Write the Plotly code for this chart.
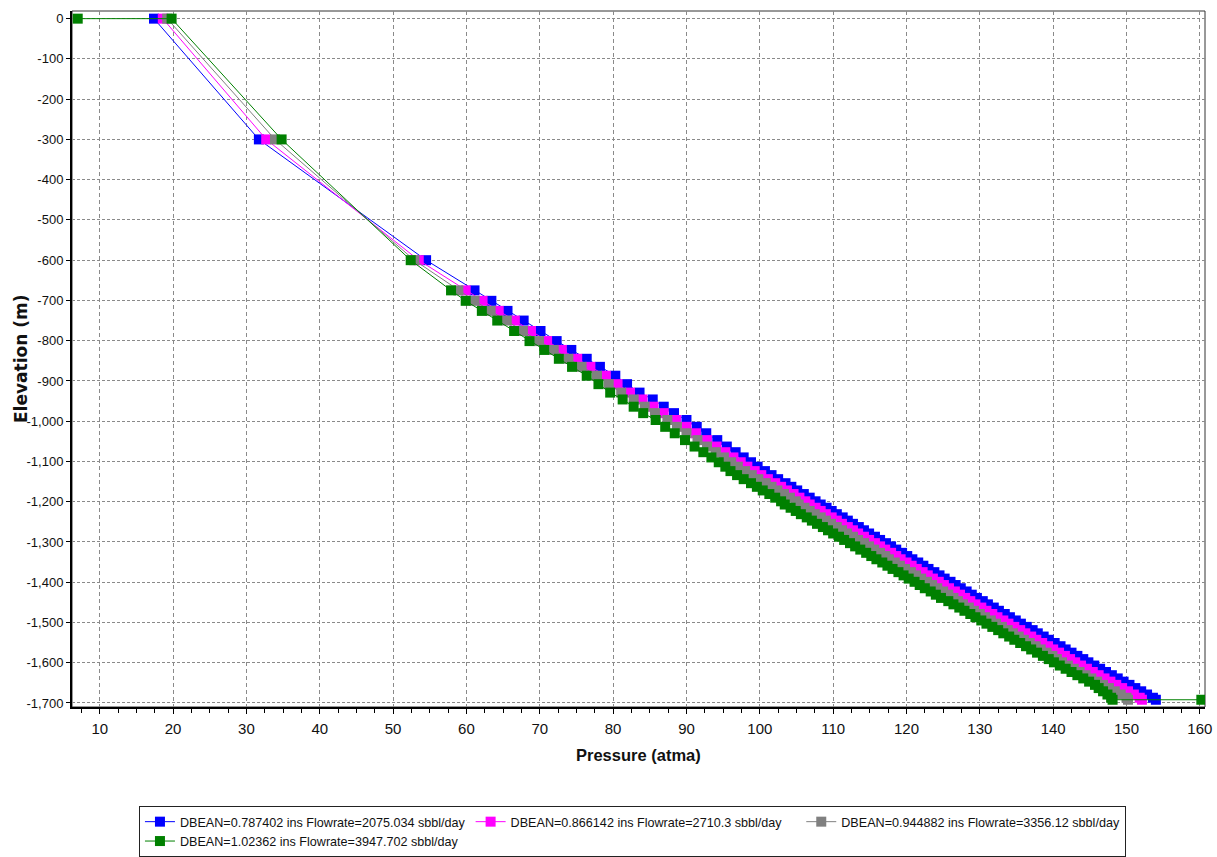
import plotly.graph_objects as go

# ---------------- data ----------------
elevation = [0, -300, -600, -675, -701, -726, -750, -776, -801, -823, -845, -865, -887, -908,
             -929, -946, -964, -980, -997, -1014, -1030, -1047,
             -1063, -1077, -1090, -1102, -1113, -1124, -1134, -1144, -1154, -1163, -1172,
             -1181, -1190, -1199,
             -1207, -1215, -1223, -1231, -1239, -1247, -1255, -1263, -1271, -1279,
             -1287, -1295, -1303, -1311, -1319, -1327, -1335, -1343, -1351, -1359,
             -1367, -1375, -1383, -1391, -1399, -1407, -1415, -1423, -1431, -1439,
             -1447, -1455, -1463, -1471, -1479, -1487, -1495, -1503, -1511, -1519,
             -1527, -1535, -1543, -1551, -1559, -1567, -1575, -1583, -1591, -1599,
             -1607, -1615, -1623, -1631, -1639, -1647, -1655, -1663, -1671, -1679,
             -1687, -1692]

p_blue = [17.4, 31.7, 54.5, 61.1, 63.4, 65.6, 67.8, 70.1, 72.3, 74.3, 76.4, 78.2, 80.3, 81.9,
          83.6, 85.4, 86.9, 88.3, 90.0, 91.4, 92.7, 94.2,
          95.5, 96.7, 97.8, 98.8, 99.7, 100.7, 101.6, 102.5, 103.5, 104.3, 105.1,
          106.0, 106.8, 107.6,
          108.3, 109.1, 109.8, 110.5, 111.3, 112.0, 112.7, 113.5, 114.2, 114.9,
          115.7, 116.4, 117.2, 117.9, 118.6, 119.4, 120.1, 120.8, 121.6, 122.3,
          123.0, 123.8, 124.5, 125.2, 126.0, 126.7, 127.4, 128.2, 128.9, 129.6,
          130.4, 131.1, 131.9, 132.6, 133.4, 134.1, 134.9, 135.6, 136.4, 137.2,
          137.9, 138.7, 139.4, 140.2, 141.0, 141.7, 142.5, 143.3, 144.1, 144.8,
          145.6, 146.4, 147.2, 148.0, 148.8, 149.6, 150.4, 151.2, 152.0, 152.8,
          153.6, 154.0]

p_magenta = [18.6, 32.7, 53.5, 59.9, 62.2, 64.4, 66.6, 68.8, 71.0, 73.0, 75.1, 76.9, 79.0, 80.6,
             82.3, 84.0, 85.5, 86.9, 88.6, 90.0, 91.3, 92.8,
             94.1, 95.3, 96.4, 97.4, 98.3, 99.3, 100.2, 101.1, 102.1, 102.9, 103.7,
             104.6, 105.4, 106.2,
             106.8, 107.6, 108.3, 109.0, 109.8, 110.5, 111.2, 112.0, 112.7, 113.4,
             114.2, 114.9, 115.7, 116.4, 117.1, 117.9, 118.6, 119.2, 120.0, 120.7,
             121.4, 122.2, 122.9, 123.6, 124.4, 125.1, 125.8, 126.6, 127.3, 128.0,
             128.7, 129.4, 130.2, 130.9, 131.7, 132.4, 133.2, 133.9, 134.7, 135.5,
             136.2, 137.0, 137.7, 138.5, 139.3, 140.0, 140.8, 141.6, 142.3, 143.0,
             143.8, 144.6, 145.4, 146.2, 147.0, 147.8, 148.6, 149.4, 150.2, 151.0,
             151.8, 152.1]

p_gray = [19.2, 33.9, 52.9, 58.9, 61.1, 63.3, 65.5, 67.7, 69.9, 71.9, 73.9, 75.7, 77.8, 79.4,
          81.1, 82.8, 84.3, 85.7, 87.4, 88.7, 90.0, 91.5,
          92.8, 94.0, 95.1, 96.1, 97.0, 98.0, 98.9, 99.8, 100.8, 101.6, 102.4,
          103.3, 104.1, 104.9,
          105.3, 106.1, 106.8, 107.5, 108.3, 109.0, 109.7, 110.5, 111.2, 111.9,
          112.7, 113.4, 114.2, 114.9, 115.6, 116.4, 117.1, 117.6, 118.4, 119.1,
          119.8, 120.6, 121.3, 122.0, 122.8, 123.5, 124.2, 125.0, 125.7, 126.4,
          127.0, 127.7, 128.5, 129.2, 130.0, 130.7, 131.5, 132.2, 133.0, 133.8,
          134.5, 135.3, 136.0, 136.8, 137.6, 138.3, 139.1, 139.9, 140.5, 141.2,
          142.0, 142.8, 143.6, 144.4, 145.2, 146.0, 146.8, 147.6, 148.4, 149.2,
          150.0, 150.2]

p_green = [19.8, 34.8, 52.4, 57.9, 59.9, 62.1, 64.2, 66.5, 68.6, 70.6, 72.6, 74.4, 76.4, 78.0,
           79.6, 81.3, 82.8, 84.1, 85.8, 87.1, 88.4, 89.8,
           91.1, 92.3, 93.4, 94.4, 95.3, 96.0, 96.9, 97.8, 98.8, 99.6, 100.4,
           101.3, 102.1, 102.9,
           103.4, 104.2, 104.9, 105.6, 106.4, 107.1, 107.8, 108.6, 109.3, 110.0,
           110.8, 111.5, 112.3, 113.0, 113.7, 114.5, 115.2, 115.9, 116.7, 117.4,
           118.1, 118.9, 119.6, 120.3, 121.1, 121.8, 122.5, 123.3, 124.0, 124.7,
           125.7, 126.4, 127.2, 127.9, 128.7, 129.4, 130.2, 130.9, 131.7, 132.5,
           133.2, 134.0, 134.7, 135.5, 136.3, 137.0, 137.8, 138.6, 139.4, 140.1,
           140.9, 141.7, 142.5, 143.3, 144.1, 144.9, 145.7, 146.2, 146.8, 147.4,
           147.9, 148.1]

# extra end points of the last series (wellhead / bottom)
green_end_pressure = [7.0, 160.2]
green_end_elevation = [0, -1692]

series_names = ["DBEAN=0.787402 ins Flowrate=2075.034 sbbl/day",
                "DBEAN=0.866142 ins Flowrate=2710.3 sbbl/day",
                "DBEAN=0.944882 ins Flowrate=3356.12 sbbl/day",
                "DBEAN=1.02362 ins Flowrate=3947.702 sbbl/day"]
series_colors = ["#0000FF", "#FF00FF", "#808080", "#008000"]

y_tick_vals = [0, -100, -200, -300, -400, -500, -600, -700, -800, -900, -1000,
               -1100, -1200, -1300, -1400, -1500, -1600, -1700]
y_tick_text = ["0", "-100", "-200", "-300", "-400", "-500", "-600", "-700", "-800", "-900",
               "-1,000", "-1,100", "-1,200", "-1,300", "-1,400", "-1,500", "-1,600", "-1,700"]

x_title = "Pressure (atma)"
y_title = "Elevation (m)"

# ---------------- figure ----------------
SANS = "Liberation Sans, Arial, sans-serif"

fig = go.Figure()
series = [
    (p_blue, elevation),
    (p_magenta, elevation),
    (p_gray, elevation),
    ([green_end_pressure[0]] + p_green + [green_end_pressure[1]],
     [green_end_elevation[0]] + elevation + [green_end_elevation[1]]),
]
for (xs, ys), name, col in zip(series, series_names, series_colors):
    fig.add_trace(go.Scatter(
        x=xs, y=ys, name=name, mode="lines+markers",
        line=dict(color=col, width=1),
        marker=dict(symbol="square", size=10, color=col, line=dict(width=0)),
    ))

fig.update_layout(
    width=1217, height=857,
    margin=dict(l=72, r=12, t=11, b=150, autoexpand=False),
    paper_bgcolor="white", plot_bgcolor="white",
    showlegend=True,
    legend=dict(
        orientation="h", x=0.0591, y=-0.1422, xanchor="left", yanchor="top",
        bordercolor="#222222", borderwidth=1, bgcolor="white",
        font=dict(family=SANS, size=12.6, color="#111111"),
        itemwidth=30,
    ),
    font=dict(family=SANS, color="#111111"),
)

fig.update_xaxes(
    range=[6.22, 160.7], dtick=10, tick0=0,
    showline=True, linecolor="black", linewidth=2, mirror=False,
    ticks="outside", ticklen=5, tickcolor="black", tickwidth=1,
    ticklabelstandoff=2,
    tickfont=dict(family=SANS, size=15, color="#111111"),
    showgrid=True, gridcolor="#8a8a8a", gridwidth=1, griddash="4px,3px",
    zeroline=False,
    minor=dict(dtick=2.5, tick0=0, ticks="outside", ticklen=4, tickcolor="black", showgrid=False),
)
fig.update_yaxes(
    range=[-1710, 19],
    tickmode="array", tickvals=y_tick_vals, ticktext=y_tick_text,
    showline=True, linecolor="black", linewidth=2, mirror=False,
    ticks="outside", ticklen=4, tickcolor="black", tickwidth=1,
    tickfont=dict(family=SANS, size=13, color="#111111"),
    showgrid=True, gridcolor="#8a8a8a", gridwidth=1, griddash="3px,2px",
    zeroline=False,
)

# thin frame on top / right
fig.add_shape(type="rect", xref="paper", yref="paper", x0=0, y0=0, x1=1, y1=1,
              line=dict(color="#333333", width=1), layer="below")

fig.add_annotation(text="<b>" + x_title + "</b>", xref="paper", yref="paper",
                   x=0.5, y=-0.069, showarrow=False, xanchor="center", yanchor="middle",
                   font=dict(family=SANS, size=16.5, color="#111111"))
fig.add_annotation(text="<b>" + y_title + "</b>", xref="paper", yref="paper",
                   x=-0.0450, y=0.5, showarrow=False, textangle=-90,
                   xanchor="center", yanchor="middle",
                   font=dict(family="DejaVu Sans, Verdana, sans-serif", size=17, color="#111111"))

fig.write_html("out.html")
